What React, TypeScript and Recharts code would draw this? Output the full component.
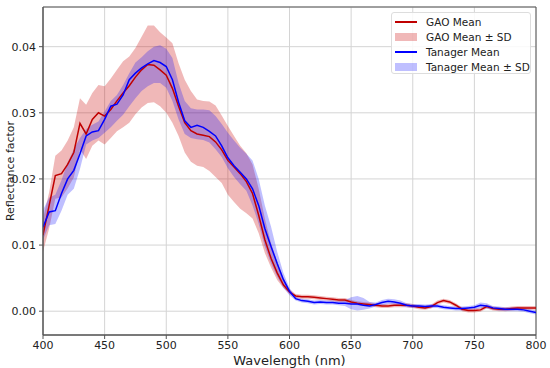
import React from 'react';
import {
  ComposedChart,
  Line,
  Area,
  XAxis,
  YAxis,
  CartesianGrid,
  ReferenceArea,
} from 'recharts';

const wavelengths = [
  400, 405, 410, 415, 420, 425, 430, 435, 440, 445, 450, 455, 460, 465, 470, 475, 480, 485, 490, 495,
  500, 505, 510, 515, 520, 525, 530, 535, 540, 545, 550, 555, 560, 565, 570, 575, 580, 585, 590, 595,
  600, 605, 610, 615, 620, 625, 630, 635, 640, 645, 650, 655, 660, 665, 670, 675, 680, 685, 690, 695,
  700, 705, 710, 715, 720, 725, 730, 735, 740, 745, 750, 755, 760, 765, 770, 775, 780, 785, 790, 795,
  800,
];

const gaoMean = [
  0.0115, 0.0160, 0.0205, 0.0208, 0.0222, 0.0240, 0.0284, 0.0268, 0.0290, 0.0300,
  0.0295, 0.0305, 0.0318, 0.0330, 0.0341, 0.0354, 0.0365, 0.0373, 0.0372, 0.0365,
  0.0357, 0.0337, 0.0310, 0.0285, 0.0273, 0.0268, 0.0266, 0.0264, 0.0256, 0.0244,
  0.0228, 0.0218, 0.0208, 0.0196, 0.0178, 0.0145, 0.0108, 0.0080, 0.0058, 0.0040,
  0.0029, 0.0023, 0.0022, 0.0022, 0.0021, 0.0020, 0.0019, 0.0018, 0.0017, 0.0017,
  0.0014, 0.0012, 0.0011, 0.0010, 0.0009, 0.0008, 0.0008, 0.0009, 0.0009, 0.0009,
  0.0008, 0.0006, 0.0005, 0.0007, 0.0013, 0.0016, 0.0014, 0.0009, 0.0003, 0.0001,
  0.0001, 0.0002, 0.0007, 0.0004, 0.0003, 0.0003, 0.0004, 0.0005, 0.0005, 0.0005,
  0.0005,
];

const gaoHigh = [
  0.0140, 0.0180, 0.0235, 0.0243, 0.0258, 0.0278, 0.0322, 0.0312, 0.0330, 0.0342,
  0.0340, 0.0352, 0.0365, 0.0378, 0.0385, 0.0398, 0.0415, 0.0432, 0.0432, 0.0422,
  0.0414, 0.0405, 0.0375, 0.0350, 0.0333, 0.0320, 0.0318, 0.0317, 0.0311, 0.0296,
  0.0280, 0.0265, 0.0250, 0.0239, 0.0222, 0.0185, 0.0140, 0.0103, 0.0075, 0.0050,
  0.0033, 0.0026, 0.0025, 0.0025, 0.0024, 0.0023, 0.0022, 0.0021, 0.0020, 0.0020,
  0.0017, 0.0015, 0.0014, 0.0013, 0.0012, 0.0011, 0.0011, 0.0012, 0.0012, 0.0012,
  0.0011, 0.0009, 0.0008, 0.0010, 0.0016, 0.0019, 0.0017, 0.0012, 0.0006, 0.0004,
  0.0004, 0.0005, 0.0010, 0.0007, 0.0006, 0.0006, 0.0007, 0.0008, 0.0008, 0.0008,
  0.0008,
];

const gaoLow = [
  0.0090, 0.0125, 0.0170, 0.0172, 0.0186, 0.0202, 0.0245, 0.0230, 0.0250, 0.0258,
  0.0252, 0.0262, 0.0272, 0.0278, 0.0285, 0.0298, 0.0308, 0.0315, 0.0316, 0.0310,
  0.0300, 0.0285, 0.0265, 0.0240, 0.0226, 0.0220, 0.0218, 0.0212, 0.0203, 0.0194,
  0.0176, 0.0165, 0.0155, 0.0148, 0.0140, 0.0118, 0.0088, 0.0066, 0.0047, 0.0035,
  0.0026, 0.0020, 0.0019, 0.0019, 0.0018, 0.0017, 0.0016, 0.0015, 0.0014, 0.0014,
  0.0011, 0.0009, 0.0008, 0.0007, 0.0006, 0.0005, 0.0005, 0.0006, 0.0006, 0.0006,
  0.0005, 0.0003, 0.0002, 0.0004, 0.0010, 0.0013, 0.0011, 0.0006, 0.0000, -0.0002,
  -0.0002, -0.0001, 0.0004, 0.0001, 0.0000, 0.0000, 0.0001, 0.0002, 0.0002, 0.0002,
  0.0002,
];

const tanagerMean = [
  0.0127, 0.0150, 0.0152, 0.0178, 0.0200, 0.0213, 0.0238, 0.0265, 0.0271, 0.0273,
  0.0290, 0.0310, 0.0313, 0.0327, 0.0350, 0.0360, 0.0368, 0.0374, 0.0379, 0.0376,
  0.0370, 0.0350, 0.0316, 0.0288, 0.0278, 0.0281, 0.0278, 0.0272, 0.0265, 0.0250,
  0.0232, 0.0220, 0.0210, 0.0200, 0.0185, 0.0160, 0.0125, 0.0098, 0.0072, 0.0048,
  0.0030, 0.0019, 0.0016, 0.0015, 0.0013, 0.0014, 0.0013, 0.0013, 0.0012, 0.0012,
  0.0011, 0.0011, 0.0009, 0.0008, 0.0010, 0.0013, 0.0015, 0.0014, 0.0012, 0.0009,
  0.0008, 0.0008, 0.0007, 0.0008, 0.0008, 0.0006, 0.0005, 0.0004, 0.0004, 0.0005,
  0.0006, 0.0009, 0.0008, 0.0005, 0.0004, 0.0003, 0.0003, 0.0003, 0.0002, 0.0000,
  -0.0002,
];

const tanagerHigh = [
  0.0153, 0.0172, 0.0176, 0.0198, 0.0225, 0.0245, 0.0262, 0.0275, 0.0282, 0.0287,
  0.0302, 0.0318, 0.0327, 0.0342, 0.0360, 0.0376, 0.0384, 0.0393, 0.0400, 0.0402,
  0.0397, 0.0383, 0.0345, 0.0318, 0.0307, 0.0305, 0.0305, 0.0304, 0.0295, 0.0283,
  0.0270, 0.0258, 0.0247, 0.0238, 0.0228, 0.0200, 0.0160, 0.0128, 0.0090, 0.0058,
  0.0035, 0.0022, 0.0019, 0.0018, 0.0016, 0.0017, 0.0016, 0.0016, 0.0015, 0.0017,
  0.0021, 0.0023, 0.0020, 0.0014, 0.0013, 0.0017, 0.0019, 0.0018, 0.0016, 0.0012,
  0.0011, 0.0011, 0.0010, 0.0011, 0.0011, 0.0009, 0.0008, 0.0007, 0.0007, 0.0008,
  0.0009, 0.0013, 0.0012, 0.0008, 0.0007, 0.0006, 0.0006, 0.0006, 0.0005, 0.0003,
  0.0001,
];

const tanagerLow = [
  0.0108, 0.0130, 0.0132, 0.0152, 0.0176, 0.0185, 0.0215, 0.0252, 0.0258, 0.0262,
  0.0270, 0.0278, 0.0288, 0.0297, 0.0310, 0.0322, 0.0333, 0.0340, 0.0345, 0.0345,
  0.0338, 0.0318, 0.0290, 0.0268, 0.0262, 0.0260, 0.0259, 0.0255, 0.0245, 0.0233,
  0.0216, 0.0203, 0.0192, 0.0182, 0.0160, 0.0132, 0.0098, 0.0072, 0.0052, 0.0036,
  0.0024, 0.0016, 0.0013, 0.0012, 0.0010, 0.0011, 0.0010, 0.0010, 0.0009, 0.0008,
  0.0003, 0.0001, 0.0002, 0.0004, 0.0007, 0.0009, 0.0011, 0.0010, 0.0008, 0.0006,
  0.0005, 0.0005, 0.0004, 0.0005, 0.0005, 0.0003, 0.0002, 0.0001, 0.0001, 0.0002,
  0.0003, 0.0005, 0.0004, 0.0002, 0.0001, 0.0000, 0.0000, 0.0000, -0.0001, -0.0003,
  -0.0005,
];

const xTicks = [400, 450, 500, 550, 600, 650, 700, 750, 800];
const yTicks = [0, 0.01, 0.02, 0.03, 0.04];

const legendItems = [
  { label: 'GAO Mean', kind: 'line', color: '#c00000' },
  { label: 'GAO Mean ± SD', kind: 'patch', color: 'rgba(200,0,0,0.28)' },
  { label: 'Tanager Mean', kind: 'line', color: '#0000ff' },
  { label: 'Tanager Mean ± SD', kind: 'patch', color: 'rgba(0,0,255,0.25)' },
];

const data = wavelengths.map((wl, i) => ({
  wl,
  gao: gaoMean[i],
  gaoBand: [gaoLow[i], gaoHigh[i]],
  tan: tanagerMean[i],
  tanBand: [tanagerLow[i], tanagerHigh[i]],
}));

const FONT = '"DejaVu Sans", sans-serif';

export default function App() {
  return (
    <div style={{ position: 'absolute', left: 0, top: 0, width: 550, height: 368, background: '#fff' }}>
      <ComposedChart
        width={550}
        height={368}
        data={data}
        margin={{ top: 7, right: 14, bottom: 0, left: 0 }}
      >
        <CartesianGrid stroke="#d4d4d4" strokeWidth={1} />
        <XAxis
          dataKey="wl"
          type="number"
          domain={[400, 800]}
          ticks={xTicks}
          allowDataOverflow
          height={33}
          tickSize={4}
          tickMargin={2}
          stroke="#555"
          tick={{ fill: '#222', fontSize: 11, fontFamily: FONT }}
          label={{
            value: 'Wavelength (nm)',
            position: 'insideBottom',
            offset: 3,
            style: { fill: '#222', fontSize: 13, fontFamily: FONT },
          }}
        />
        <YAxis
          type="number"
          domain={[-0.0036, 0.046]}
          ticks={yTicks}
          allowDataOverflow
          width={43}
          tickSize={4}
          tickMargin={3}
          stroke="#555"
          tickFormatter={(v: number) => v.toFixed(2)}
          tick={{ fill: '#222', fontSize: 11, fontFamily: FONT }}
          label={{
            value: 'Reflectance factor',
            angle: -90,
            position: 'insideLeft',
            offset: 10,
            style: { fill: '#222', fontSize: 11, fontFamily: FONT, textAnchor: 'middle' },
          }}
        />
        <Area
          type="linear"
          dataKey="gaoBand"
          stroke="none"
          fill="#c80000"
          fillOpacity={0.28}
          isAnimationActive={false}
          activeDot={false}
        />
        <Area
          type="linear"
          dataKey="tanBand"
          stroke="none"
          fill="#0000ff"
          fillOpacity={0.25}
          isAnimationActive={false}
          activeDot={false}
        />
        <Line
          type="linear"
          dataKey="gao"
          stroke="#c00000"
          strokeWidth={1.5}
          dot={false}
          isAnimationActive={false}
        />
        <Line
          type="linear"
          dataKey="tan"
          stroke="#0000ff"
          strokeWidth={1.5}
          dot={false}
          isAnimationActive={false}
        />
        <ReferenceArea
          x1={400}
          x2={800}
          y1={-0.0036}
          y2={0.046}
          fill="none"
          stroke="#555"
          strokeWidth={1}
          ifOverflow="visible"
        />
      </ComposedChart>
      <div
        style={{
          position: 'absolute',
          left: 391,
          top: 12,
          width: 140,
          height: 62,
          boxSizing: 'border-box',
          border: '1px solid #ddd',
          borderRadius: 3,
          background: 'rgba(255,255,255,0.85)',
          fontFamily: FONT,
          fontSize: 10.5,
          color: '#222',
        }}
      >
        {legendItems.map((it, i) => (
          <div
            key={it.label}
            style={{ position: 'absolute', left: 3, top: 2 + i * 15, height: 14, display: 'flex', alignItems: 'center', whiteSpace: 'nowrap' }}
          >
            {it.kind === 'line' ? (
              <div style={{ width: 22, height: 2, background: it.color }} />
            ) : (
              <div style={{ width: 22, height: 8, background: it.color }} />
            )}
            <span style={{ marginLeft: 9 }}>{it.label}</span>
          </div>
        ))}
      </div>
    </div>
  );
}
